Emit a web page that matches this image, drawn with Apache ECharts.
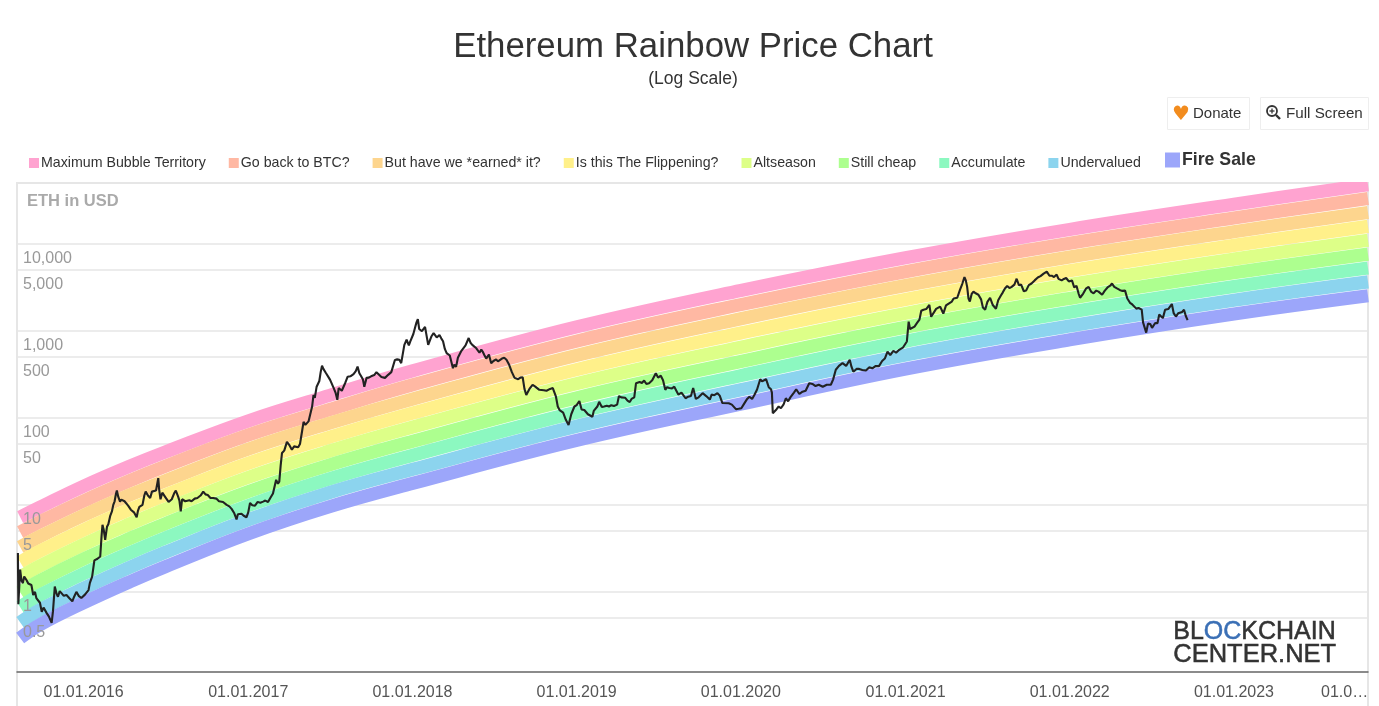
<!DOCTYPE html>
<html>
<head>
<meta charset="utf-8">
<title>Ethereum Rainbow Price Chart</title>
<script src="https://cdn.jsdelivr.net/npm/echarts@6/dist/echarts.min.js"></script>
<style>
  html, body { margin: 0; padding: 0; background: #fff; }
  #main { width: 1379px; height: 706px; }
</style>
</head>
<body>
<div id="main"></div>
<script>
const bandDates = ['2015-08-13','2015-09-26','2016-01-01','2016-04-13','2016-06-30','2017-01-01','2017-07-02','2018-01-01','2019-01-01','2020-01-01','2021-01-01','2022-01-01','2023-01-01','2023-10-26']
const maxBubble = [7.24,9.4,16.4,27.9,40.4,92.2,182,347,1109,2912,6918,14650,28510,47800]
const backToBtc = [4.86,6.38,11.1,19,27.7,63.5,125,239,762,2000,4788,10166,19830,33100]
const earned = [3.27,4.33,7.57,13,18.9,43.7,87.3,164,523,1374,3313,7055,13790,22900]
const flippening = [2.2,2.94,5.15,8.86,12.9,30.1,60.3,113,359,944,2293,4896,9590,15870]
const altseason = [1.48,1.99,3.51,6.04,8.86,20.7,41.7,78,247,648,1587,3398,6670,10990]
const stillCheap = [0.99,1.35,2.39,4.12,6.06,14.2,28.9,53.7,170,445,1098,2358,4640,7610]
const accumulate = [0.668,0.916,1.62,2.81,4.15,9.8,20,37,116,306,760,1636,3225,5270]
const undervalued = [0.445,0.622,1.1,1.92,2.84,6.74,13.9,25.5,80,210,526,1135,2243,3650]
const fireSale = [0.295,0.42,0.75,1.31,1.94,4.64,9.56,17.6,55,144,364,788,1560,2530]

const bandNames = ['Maximum Bubble Territory','Go back to BTC?','But have we *earned* it?','Is this The Flippening?','Altseason','Still cheap','Accumulate','Undervalued','Fire Sale']
const bandColors = ['#ffa3d0','#ffb8a3','#fdd58e','#fff08a','#ddff88','#adff8f','#8cf8c0','#8cd4ee','#9ca6fa']
const bandValues = [maxBubble,backToBtc,earned,flippening,altseason,stillCheap,accumulate,undervalued,fireSale]

const yTicks = [0.5,1,5,10,50,100,500,1000,5000,10000]
const yearTicks = ['2016-01-01','2017-01-01','2018-01-01','2019-01-01','2020-01-01','2021-01-01','2022-01-01','2023-01-01']

const ethPrice = [
['2015-08-08',2.8],['2015-08-09',0.72],['2015-08-11',0.75],['2015-08-13',1.8],['2015-08-16',1.35],['2015-08-19',1.26],['2015-08-22',1.5],['2015-08-27',1.37],['2015-08-31',1.25],['2015-09-03',1.31],['2015-09-07',1.2],['2015-09-11',0.92],['2015-09-15',1.0],['2015-09-18',0.85],['2015-09-22',0.88],['2015-09-26',0.75],['2015-09-30',0.59],['2015-10-04',0.66],['2015-10-11',0.57],['2015-10-16',0.52],['2015-10-22',0.44],['2015-10-25',0.6],['2015-10-29',1.15],['2015-11-02',0.95],['2015-11-05',0.88],['2015-11-09',1.02],['2015-11-13',1.0],['2015-11-18',0.9],['2015-11-24',0.92],['2015-12-01',0.84],['2015-12-07',0.78],['2015-12-11',0.88],['2015-12-16',1.0],['2015-12-21',0.9],['2015-12-27',0.85],
['2016-01-04',0.93],['2016-01-08',0.95],['2016-01-12',1.05],['2016-01-15',1.27],['2016-01-20',1.5],['2016-01-25',2.3],['2016-01-29',2.2],['2016-02-01',2.4],['2016-02-04',2.35],['2016-02-07',2.55],['2016-02-10',4.4],['2016-02-12',5.9],['2016-02-15',5.1],['2016-02-18',3.96],['2016-02-22',5.6],['2016-02-25',6.0],['2016-02-29',7.4],['2016-03-04',8.4],['2016-03-07',10],['2016-03-10',11],['2016-03-13',13.4],['2016-03-15',14.6],['2016-03-18',12.4],['2016-03-22',10.9],['2016-03-25',11.5],['2016-03-28',12],['2016-04-01',11],['2016-04-04',11.4],['2016-04-09',9.8],['2016-04-15',8.8],['2016-04-19',9.2],['2016-04-22',8.2],['2016-04-25',7.8],['2016-04-28',7.2],['2016-05-01',8.6],['2016-05-04',9.5],['2016-05-08',9.2],['2016-05-11',10],['2016-05-15',12.8],['2016-05-18',14.2],['2016-05-23',12.8],['2016-05-28',12],['2016-06-01',14.2],['2016-06-05',14],['2016-06-10',14.6],['2016-06-15',20.3],['2016-06-17',15],['2016-06-20',11.6],['2016-06-24',13.8],['2016-06-27',13.5],['2016-07-01',12.2],['2016-07-04',12.4],['2016-07-08',10.8],['2016-07-11',10.4],['2016-07-15',11.6],['2016-07-18',12],['2016-07-21',13.8],['2016-07-24',14.6],['2016-07-29',12.5],['2016-08-01',11.2],['2016-08-04',8.4],['2016-08-07',11.6],['2016-08-10',12],['2016-08-14',11],['2016-08-18',10.8],['2016-08-23',11.3],['2016-08-28',11],['2016-09-04',11.8],['2016-09-10',12],['2016-09-17',12.8],['2016-09-23',14.2],['2016-09-28',13.2],['2016-10-03',13],['2016-10-09',12],['2016-10-15',12],['2016-10-22',11.8],['2016-10-28',11],['2016-11-06',10.8],['2016-11-14',10],['2016-11-20',9.6],['2016-11-25',9],['2016-12-01',8],['2016-12-06',6.8],['2016-12-09',7.8],['2016-12-12',8],['2016-12-17',7.9],['2016-12-22',7.5],['2016-12-28',7.2],
['2017-01-01',8.2],['2017-01-05',10.5],['2017-01-10',9.9],['2017-01-16',9.8],['2017-01-22',10.8],['2017-01-28',10.6],['2017-02-03',10.9],['2017-02-08',11.2],['2017-02-14',10.8],['2017-02-19',12],['2017-02-25',13.5],['2017-03-04',19.4],['2017-03-08',17.5],['2017-03-11',18.5],['2017-03-14',28],['2017-03-17',39.4],['2017-03-22',42],['2017-03-28',53],['2017-04-02',49],['2017-04-08',43],['2017-04-13',47],['2017-04-17',48],['2017-04-22',46],['2017-04-26',50],['2017-05-01',72],['2017-05-04',90],['2017-05-08',83],['2017-05-12',85],['2017-05-15',91],['2017-05-19',87],['2017-05-23',135],['2017-05-26',183],['2017-05-29',170],['2017-06-02',228],['2017-06-05',240],['2017-06-08',265],['2017-06-11',335],['2017-06-14',398],['2017-06-17',365],['2017-06-20',350],['2017-06-23',325],['2017-06-26',310],['2017-06-29',290],['2017-07-02',273],['2017-07-06',265],['2017-07-10',220],['2017-07-14',195],['2017-07-18',161],['2017-07-21',220],['2017-07-24',225],['2017-07-28',205],['2017-08-01',199],['2017-08-05',255],['2017-08-10',297],['2017-08-16',300],['2017-08-23',318],['2017-08-28',345],['2017-09-01',388],['2017-09-05',325],['2017-09-09',300],['2017-09-13',275],['2017-09-16',228],['2017-09-21',288],['2017-09-26',290],['2017-10-01',300],['2017-10-08',310],['2017-10-13',335],['2017-10-17',333],['2017-10-24',295],['2017-11-01',288],['2017-11-05',298],['2017-11-08',312],['2017-11-15',335],['2017-11-23',463],['2017-11-28',470],['2017-12-03',465],['2017-12-07',425],['2017-12-10',440],['2017-12-14',690],['2017-12-19',790],['2017-12-24',680],['2017-12-27',750],['2017-12-30',720],
['2018-01-03',920],['2018-01-07',1100],['2018-01-10',1250],['2018-01-13',1360],['2018-01-16',1050],['2018-01-18',1030],['2018-01-22',990],['2018-01-25',1030],['2018-01-29',1110],['2018-02-01',1075],['2018-02-05',690],['2018-02-08',720],['2018-02-12',860],['2018-02-17',940],['2018-02-24',840],['2018-03-02',895],['2018-03-06',820],['2018-03-10',760],['2018-03-14',620],['2018-03-18',555],['2018-03-25',520],['2018-03-29',430],['2018-04-01',372],['2018-04-04',410],['2018-04-08',385],['2018-04-12',490],['2018-04-15',500],['2018-04-19',580],['2018-04-23',605],['2018-04-29',680],['2018-05-06',827],['2018-05-10',730],['2018-05-14',690],['2018-05-18',705],['2018-05-23',630],['2018-05-30',560],['2018-06-03',610],['2018-06-06',578],['2018-06-10',525],['2018-06-14',480],['2018-06-20',535],['2018-06-25',423],['2018-06-30',450],['2018-07-06',470],['2018-07-10',445],['2018-07-14',440],['2018-07-19',480],['2018-07-24',490],['2018-07-29',465],['2018-08-04',407],['2018-08-10',335],['2018-08-16',288],['2018-08-20',300],['2018-08-24',278],['2018-08-29',290],['2018-09-03',293],['2018-09-07',215],['2018-09-11',183],['2018-09-18',215],['2018-09-25',240],['2018-10-01',228],['2018-10-05',222],['2018-10-10',210],['2018-10-14',200],['2018-10-20',208],['2018-10-26',205],['2018-11-03',215],['2018-11-09',220],['2018-11-16',175],['2018-11-20',135],['2018-11-24',123],['2018-12-02',115],['2018-12-08',95],['2018-12-14',83],['2018-12-20',110],['2018-12-27',135],
['2019-01-01',140],['2019-01-07',156],['2019-01-12',125],['2019-01-18',123],['2019-01-26',110],['2019-02-05',103],['2019-02-08',120],['2019-02-12',125],['2019-02-16',135],['2019-02-20',153],['2019-02-26',133],['2019-03-03',135],['2019-03-09',138],['2019-03-14',135],['2019-03-19',140],['2019-03-25',137],['2019-04-01',142],['2019-04-05',178],['2019-04-10',172],['2019-04-14',165],['2019-04-19',170],['2019-04-24',158],['2019-04-29',152],['2019-05-03',165],['2019-05-09',172],['2019-05-13',250],['2019-05-17',240],['2019-05-21',258],['2019-05-26',252],['2019-05-31',268],['2019-06-05',245],['2019-06-11',250],['2019-06-18',270],['2019-06-26',326],['2019-07-01',290],['2019-07-07',305],['2019-07-12',270],['2019-07-17',210],['2019-07-21',225],['2019-07-26',220],['2019-08-01',218],['2019-08-06',228],['2019-08-10',208],['2019-08-15',185],['2019-08-22',195],['2019-08-31',168],['2019-09-06',175],['2019-09-12',178],['2019-09-17',220],['2019-09-23',165],['2019-09-29',172],['2019-10-03',176],['2019-10-08',192],['2019-10-16',178],['2019-10-24',162],['2019-10-28',185],['2019-11-03',182],['2019-11-10',192],['2019-11-15',180],['2019-11-21',148],['2019-12-05',147],['2019-12-12',142],['2019-12-21',126],['2019-12-27',127],
['2020-01-02',129],['2020-01-07',142],['2020-01-10',142],['2020-01-15',165],['2020-01-20',175],['2020-01-26',165],['2020-01-31',183],['2020-02-06',212],['2020-02-13',278],['2020-02-17',262],['2020-02-20',260],['2020-02-26',278],['2020-03-03',225],['2020-03-08',213],['2020-03-10',195],['2020-03-12',113],['2020-03-16',112],['2020-03-20',125],['2020-03-25',135],['2020-03-30',129],['2020-04-05',143],['2020-04-10',168],['2020-04-15',155],['2020-04-20',172],['2020-04-28',195],['2020-05-03',213],['2020-05-10',188],['2020-05-17',200],['2020-05-24',205],['2020-06-01',250],['2020-06-08',245],['2020-06-15',232],['2020-06-22',240],['2020-07-01',228],['2020-07-10',240],['2020-07-19',240],['2020-07-24',275],['2020-07-30',357],['2020-08-06',395],['2020-08-14',426],['2020-08-22',395],['2020-08-30',464],['2020-09-03',385],['2020-09-07',339],['2020-09-14',365],['2020-09-20',365],['2020-09-27',355],['2020-10-05',350],['2020-10-12',380],['2020-10-20',372],['2020-10-27',395],['2020-11-03',393],['2020-11-10',450],['2020-11-16',480],['2020-11-22',578],['2020-11-28',525],['2020-12-05',590],['2020-12-11',560],['2020-12-18',605],['2020-12-26',640],
['2021-01-04',755],['2021-01-08',1275],['2021-01-11',1050],['2021-01-15',1080],['2021-01-21',1120],['2021-01-27',1240],['2021-02-01',1345],['2021-02-05',1700],['2021-02-10',1750],['2021-02-16',1780],['2021-02-23',1990],['2021-02-27',1450],['2021-03-02',1460],['2021-03-10',1790],['2021-03-14',1880],['2021-03-19',1900],['2021-03-26',1580],['2021-04-01',1960],['2021-04-07',2060],['2021-04-14',2170],['2021-04-18',2350],['2021-04-22',2290],['2021-04-26',2400],['2021-05-02',2950],['2021-05-07',3450],['2021-05-12',4150],['2021-05-15',3800],['2021-05-18',3200],['2021-05-21',2350],['2021-05-24',2170],['2021-05-28',2650],['2021-06-01',2820],['2021-06-06',2700],['2021-06-12',2600],['2021-06-18',2300],['2021-06-22',1850],['2021-06-27',1750],['2021-07-02',2150],['2021-07-08',2400],['2021-07-14',1980],['2021-07-21',1790],['2021-07-26',2250],['2021-08-01',2550],['2021-08-05',2750],['2021-08-10',3070],['2021-08-15',3280],['2021-08-20',3100],['2021-08-25',3200],['2021-08-31',3400],['2021-09-05',3970],['2021-09-10',3350],['2021-09-15',3400],['2021-09-21',2850],['2021-09-26',2900],['2021-10-02',3350],['2021-10-08',3500],['2021-10-15',3800],['2021-10-22',4100],['2021-10-28',4250],['2021-11-04',4550],['2021-11-11',4800],['2021-11-17',4300],['2021-11-22',4300],['2021-11-27',4150],['2021-12-03',4430],['2021-12-07',3950],['2021-12-14',3800],['2021-12-19',3950],['2021-12-24',4050],['2021-12-30',3700],
['2022-01-06',3800],['2022-01-11',3150],['2022-01-16',3300],['2022-01-21',2650],['2022-01-24',2400],['2022-01-31',2680],['2022-02-06',3050],['2022-02-12',3200],['2022-02-18',2800],['2022-02-23',2700],['2022-03-01',2900],['2022-03-06',2820],['2022-03-14',2600],['2022-03-20',2900],['2022-03-26',3150],['2022-04-01',3300],['2022-04-05',3500],['2022-04-10',3200],['2022-04-16',3070],['2022-04-22',2950],['2022-04-27',2880],['2022-05-04',2900],['2022-05-09',2350],['2022-05-15',2100],['2022-05-20',2010],['2022-05-24',2000],['2022-05-29',1800],['2022-06-03',1830],['2022-06-10',1750],['2022-06-13',1250],['2022-06-20',955],['2022-06-24',1210],['2022-06-29',1200],['2022-07-03',1080],['2022-07-06',1080],['2022-07-10',1230],['2022-07-15',1220],['2022-07-19',1540],['2022-07-23',1580],['2022-07-27',1400],['2022-08-01',1750],['2022-08-08',1780],['2022-08-16',2030],['2022-08-20',1600],['2022-08-25',1460],['2022-08-30',1590],['2022-09-03',1580],['2022-09-08',1650],['2022-09-12',1750],['2022-09-16',1480],['2022-09-20',1330]
]

const main = document.getElementById('main')
const myChart = echarts.init(main)

const pad = n => (n < 10 ? '0' : '') + n
const fontFamily = '"Liberation Sans", Arial, sans-serif'

const series = bandNames.map((name, i) => ({
  name: name,
  type: 'line',
  z: 2,
  smooth: 0.4,
  showSymbol: false,
  silent: true,
  color: bandColors[i],
  lineStyle: { width: 13.2, color: bandColors[i], cap: 'butt' },
  data: bandDates.map((d, j) => [Date.parse(d), bandValues[i][j]])
}))
series.push({
  name: 'ETH',
  type: 'line',
  z: 5,
  showSymbol: false,
  silent: true,
  color: '#222',
  lineStyle: { width: 2.1, color: '#222', join: 'bevel' },
  data: ethPrice.map(p => [Date.parse(p[0]), p[1]])
})

const option = {
  animation: false,
  textStyle: { fontFamily: fontFamily },
  title: {
    text: 'Ethereum Rainbow Price Chart',
    subtext: '(Log Scale)',
    left: 688,
    top: 25,
    textAlign: 'center',
    itemGap: 5,
    textStyle: { fontSize: 34.8, fontWeight: 'normal', color: '#333', fontFamily: fontFamily },
    subtextStyle: { fontSize: 17.5, color: '#333', fontFamily: fontFamily }
  },
  legend: [{
    left: 24,
    top: 151,
    icon: 'rect',
    itemWidth: 10,
    itemHeight: 10,
    itemGap: 23,
    selectedMode: false,
    textStyle: { fontSize: 14.2, color: '#333', padding: [0, 0, 0, -3] },
    data: bandNames.slice(0, 8)
  }, {
    left: 1160,
    top: 146,
    icon: 'rect',
    itemWidth: 15,
    itemHeight: 15,
    selectedMode: false,
    textStyle: { fontSize: 17.7, fontWeight: 'bold', color: '#333', padding: [0, 0, 0, -3] },
    data: ['Fire Sale']
  }],
  grid: { left: 17, right: 11, top: 183, bottom: 34 },
  xAxis: {
    type: 'value',
    min: Date.parse('2015-08-06'),
    max: Date.parse('2023-10-26'),
    axisLine: { lineStyle: { color: '#666', width: 1.5 } },
    axisTick: { show: false, customValues: yearTicks.map(d => Date.parse(d)) },
    splitLine: { show: false },
    axisLabel: {
      customValues: yearTicks.map(d => Date.parse(d)),
      fontSize: 16,
      color: '#555',
      margin: 13,
      hideOverlap: false,
      formatter: function (v) {
        const d = new Date(v)
        return pad(d.getUTCDate()) + '.' + pad(d.getUTCMonth() + 1) + '.' + d.getUTCFullYear()
      }
    }
  },
  yAxis: [{
    type: 'log',
    logBase: 10,
    min: 0.12,
    max: 50000,
    axisLine: { show: false },
    axisLabel: { show: false },
    axisTick: { show: false, customValues: yTicks },
    splitLine: { show: true, lineStyle: { color: '#e6e6e6', width: 1.5 } }
  }, {
    type: 'log',
    logBase: 10,
    min: 0.12,
    max: 50000,
    position: 'left',
    z: 4,
    axisLine: { show: false },
    axisTick: { show: false },
    splitLine: { show: false },
    axisLabel: {
      inside: true,
      customValues: yTicks,
      margin: 6,
      fontSize: 16,
      color: '#999',
      verticalAlign: 'top',
      padding: [7, 0, 0, 0],
      formatter: function (v) { return v.toLocaleString('en-US') }
    }
  }],
  graphic: { elements: [
    { type: 'rect', z: 0, silent: true, shape: { x: 17, y: 183, width: 1351, height: 560 }, style: { fill: 'none', stroke: '#e6e6e6', lineWidth: 2 } },
    // the top band is cut off at the frame, the thick line clip leaves a few pixels above it
    { type: 'rect', z: 3, silent: true, shape: { x: 1300, y: 170, width: 75, height: 12 }, style: { fill: '#fff' } },
    { type: 'text', z: 10, left: 27, top: 193, style: { text: 'ETH in USD', fontSize: 16.5, fontWeight: 'bold', fill: '#aaa', fontFamily: fontFamily } },
    { type: 'text', z: 10, left: 1321, top: 685, style: { text: '01.0…', fontSize: 16, fill: '#555', fontFamily: fontFamily } },

    { type: 'rect', shape: { x: 1167.5, y: 97.5, width: 82, height: 32 }, style: { fill: '#fff', stroke: '#eee', lineWidth: 1 } },
    { type: 'text', z: 10, left: 1172, top: 105, style: { text: '♥', fontSize: 20, fill: '#f28c1e', fontFamily: '"DejaVu Sans"' } },
    { type: 'text', z: 10, left: 1193, top: 106, style: { text: 'Donate', fontSize: 15, fill: '#333', fontFamily: fontFamily } },
    { type: 'rect', shape: { x: 1260.5, y: 97.5, width: 108, height: 32 }, style: { fill: '#fff', stroke: '#eee', lineWidth: 1 } },
    { type: 'circle', z: 10, shape: { cx: 1272, cy: 111, r: 5 }, style: { fill: 'none', stroke: '#333', lineWidth: 1.8 } },
    { type: 'line', z: 10, shape: { x1: 1276, y1: 115, x2: 1280, y2: 119 }, style: { stroke: '#333', lineWidth: 2.4 } },
    { type: 'line', z: 10, shape: { x1: 1269.5, y1: 111, x2: 1274.5, y2: 111 }, style: { stroke: '#333', lineWidth: 1.3 } },
    { type: 'line', z: 10, shape: { x1: 1272, y1: 108.5, x2: 1272, y2: 113.5 }, style: { stroke: '#333', lineWidth: 1.3 } },
    { type: 'text', z: 10, left: 1286, top: 106, style: { text: 'Full Screen', fontSize: 15.2, fill: '#333', fontFamily: fontFamily } },

    { type: 'text', z: 10, left: 1173, top: 619, style: {
      text: '{a|BL}{b|OC}{a|KCHAIN}',
      rich: {
        a: { fontSize: 25, fill: '#333', stroke: '#333', lineWidth: 0.5, fontFamily: fontFamily },
        b: { fontSize: 25, fill: '#3a6fb5', stroke: '#3a6fb5', lineWidth: 0.5, fontFamily: fontFamily }
      }
    } },
    { type: 'text', z: 10, left: 1173, top: 642, style: { text: 'CENTER.NET', fontSize: 25.5, fill: '#333', stroke: '#333', lineWidth: 0.5, fontFamily: fontFamily } }
  ] },
  series: series
}
myChart.setOption(option)
</script>
</body>
</html>
